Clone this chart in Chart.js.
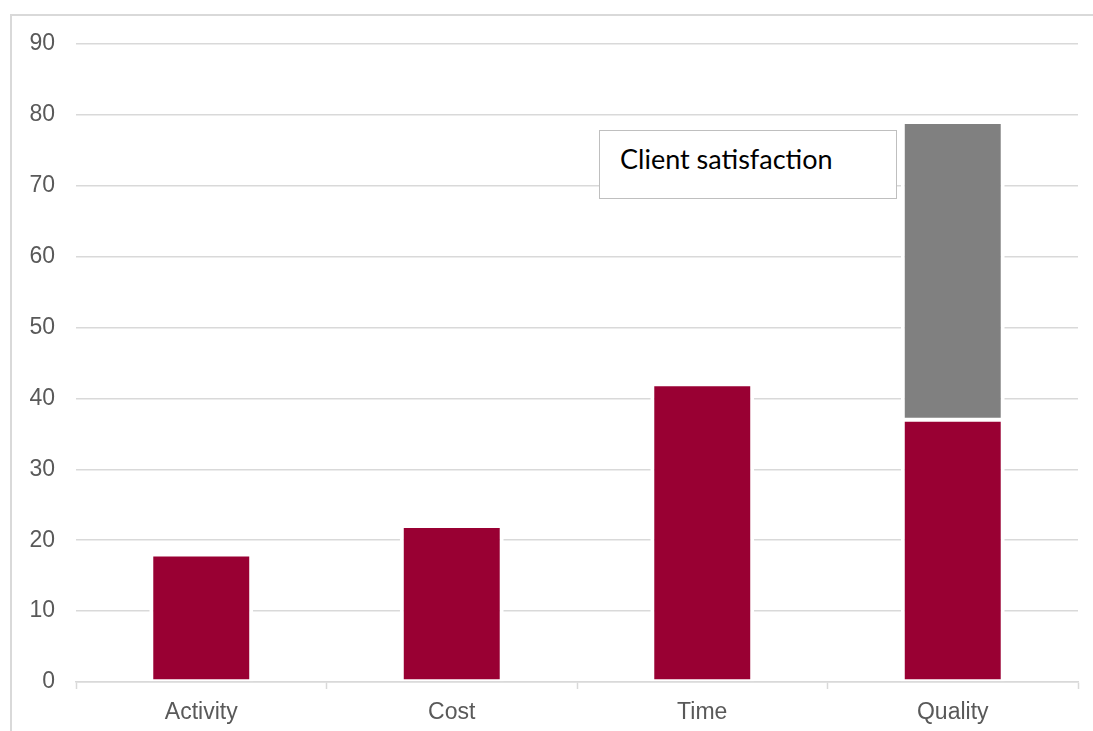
<!DOCTYPE html>
<html>
<head>
<meta charset="utf-8">
<title>Project scores</title>
<script src="https://cdn.jsdelivr.net/npm/chart.js@4/dist/chart.umd.min.js"></script>
<style>
  html, body { margin: 0; padding: 0; background: #fff; overflow: hidden; }
  #wrap { position: relative; width: 1093px; height: 731px; }
  #frame {
    position: absolute; left: 10px; top: 14px; width: 1200px; height: 800px;
    border-left: 2px solid #d9d9d9; border-top: 2px solid #d9d9d9;
  }
  #chart { position: absolute; left: 0; top: 0; }
  #note {
    position: absolute; left: 599px; top: 130px; width: 298px; height: 69px;
    box-sizing: border-box; border: 1.5px solid #bfbfbf; background: #fff;
    font-family: Lato, "Open Sans", sans-serif; font-size: 27px; color: #000;
    line-height: 1; padding: 14px 0 0 20px; white-space: nowrap;
  }
</style>
</head>
<body>
<div id="wrap">
  <div id="frame"></div>
  <canvas id="chart" width="1093" height="731"></canvas>
  <div id="note">Client satisfaction</div>
</div>
<script>
// Categories and values
var categories = ["Activity", "Cost", "Time", "Quality"];
var baseScores = [18, 22, 42, 37];
var satisfaction = [null, null, null, 42];
var yTicks = [0, 10, 20, 30, 40, 50, 60, 70, 80, 90];

var red = "#990033";
var grey = "#808080";
var lineGrey = "#d9d9d9";
var textGrey = "#595959";

var barBorder = { top: 2, bottom: 2, left: 4, right: 4 };

var canvas = document.getElementById("chart");

var data = {
  labels: categories,
  datasets: [
    {
      label: "Score",
      data: baseScores,
      backgroundColor: red,
      borderColor: "#ffffff",
      borderWidth: barBorder,
      borderSkipped: false,
      barPercentage: 0.415,
      categoryPercentage: 1,
    },
    {
      label: "Client satisfaction",
      data: satisfaction,
      backgroundColor: grey,
      borderColor: "#ffffff",
      borderWidth: barBorder,
      borderSkipped: false,
      barPercentage: 0.415,
      categoryPercentage: 1,
    },
  ],
};

var options = {
  responsive: false,
  animation: false,
  layout: { padding: { left: 0, right: 15, top: 44, bottom: 0 } },
  plugins: {
    legend: { display: false },
    tooltip: { enabled: false },
  },
  scales: {
    x: {
      stacked: true,
      grid: {
        offset: true,
        drawOnChartArea: false,
        drawTicks: true,
        tickLength: 7,
        tickColor: lineGrey,
        tickWidth: 1.5,
      },
      border: { color: lineGrey, width: 1.5 },
      ticks: {
        color: textGrey,
        padding: 10,
        font: { family: "'Liberation Sans', Arial, sans-serif", size: 23 },
      },
      afterFit: function (scale) { scale.height = 49; },
    },
    y: {
      stacked: true,
      min: 0,
      max: 90,
      afterBuildTicks: function (scale) {
        scale.ticks = yTicks.map(function (v) { return { value: v }; });
      },
      grid: { color: lineGrey, lineWidth: 1.5, drawTicks: false },
      border: { display: false },
      ticks: {
        color: textGrey,
        padding: 21,
        font: { family: "'Liberation Sans', Arial, sans-serif", size: 23 },
      },
      afterFit: function (scale) { scale.width = 76; },
    },
  },
};

var chart = new Chart(canvas, {
  type: "bar",
  data: data,
  options: options,
});
</script>
</body>
</html>
